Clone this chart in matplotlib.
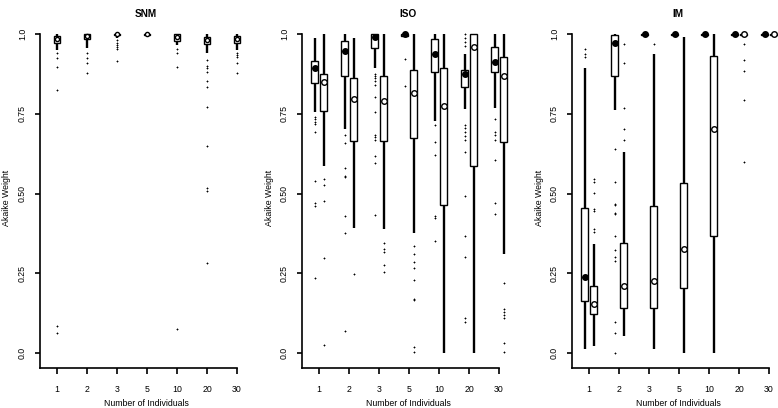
import matplotlib
matplotlib.use("Agg")
import matplotlib.pyplot as plt

plt.rcParams['font.family'] = ['Liberation Sans', 'DejaVu Sans']

categories = ["1", "2", "3", "5", "10", "20", "30"]
panel_titles = ["SNM", "ISO", "IM"]
y_ticks = [0.0, 0.25, 0.5, 0.75, 1.0]
y_tick_labels = ["0.0", "0.25", "0.50", "0.75", "1.0"]

# ---------------- SNM (single box per category) ----------------
snm_q1 = [0.972, 0.984, 0.996, 0.997, 0.979, 0.969, 0.973]
snm_med = [0.985, 0.993, 0.999, 1.000, 0.990, 0.981, 0.985]
snm_q3 = [0.994, 1.000, 1.000, 1.000, 0.999, 0.992, 0.994]
snm_lo = [0.950, 0.955, 0.988, 0.993, 0.966, 0.940, 0.950]
snm_hi = [1.0, 1.0, 1.0, 1.0, 1.0, 1.0, 1.0]
snm_fliers = [
    [0.940, 0.924, 0.898, 0.826, 0.085, 0.063],
    [0.939, 0.924, 0.908, 0.879],
    [0.981, 0.973, 0.965, 0.958, 0.953, 0.915],
    [],
    [0.952, 0.940, 0.898, 0.074],
    [0.920, 0.899, 0.892, 0.881, 0.853, 0.834, 0.772, 0.649, 0.516, 0.508, 0.283],
    [0.942, 0.934, 0.927, 0.908, 0.879],
]

# ---------------- ISO ----------------
iso_a_q1 = [0.845, 0.867, 0.955, 0.995, 0.880, 0.833, 0.880]
iso_a_med = [0.894, 0.948, 0.992, 1.000, 0.937, 0.876, 0.911]
iso_a_q3 = [0.914, 0.978, 1.000, 1.000, 0.984, 0.886, 0.958]
iso_a_lo = [0.754, 0.702, 0.892, 0.993, 0.726, 0.764, 0.767]
iso_a_hi = [0.988, 1.000, 1.000, 1.000, 1.000, 0.936, 1.000]
iso_a_fliers = [
    [0.741, 0.732, 0.725, 0.718, 0.692, 0.539, 0.469, 0.462, 0.234],
    [0.683, 0.657, 0.580, 0.555, 0.553, 0.431, 0.375, 0.069],
    [0.876, 0.869, 0.861, 0.853, 0.840, 0.801, 0.754, 0.683, 0.676, 0.668, 0.618, 0.595, 0.433],
    [0.923, 0.837],
    [0.715, 0.663, 0.620, 0.429, 0.422, 0.351],
    [1.0, 0.986, 0.974, 0.963, 0.715, 0.704, 0.692, 0.681, 0.668, 0.630, 0.492, 0.367, 0.300, 0.109, 0.098],
    [0.735, 0.692, 0.683, 0.668, 0.605, 0.469, 0.435],
]
iso_b_q1 = [0.759, 0.666, 0.666, 0.675, 0.465, 0.586, 0.660]
iso_b_med = [0.848, 0.795, 0.791, 0.816, 0.774, 0.958, 0.867]
iso_b_q3 = [0.876, 0.861, 0.869, 0.886, 0.894, 1.000, 0.927]
iso_b_lo = [0.586, 0.391, 0.389, 0.375, 0.000, 0.000, 0.310]
iso_b_hi = [1.000, 0.986, 1.000, 1.000, 1.000, 1.000, 1.000]
iso_b_fliers = [
    [0.547, 0.527, 0.476, 0.299, 0.025],
    [0.248],
    [0.344, 0.325, 0.318, 0.276, 0.255],
    [0.334, 0.310, 0.284, 0.267, 0.229, 0.170, 0.167, 0.018, 0.004],
    [],
    [],
    [0.218, 0.138, 0.130, 0.119, 0.111, 0.030, 0.002],
]

# ---------------- IM ----------------
im_a_q1 = [0.163, 0.869, 0.998, 0.998, 0.998, 0.998, 0.998]
im_a_med = [0.239, 0.973, 1.000, 1.000, 1.000, 1.000, 1.000]
im_a_q3 = [0.456, 0.997, 1.000, 1.000, 1.000, 1.000, 1.000]
im_a_lo = [0.013, 0.762, 0.996, 0.996, 0.996, 0.996, 0.996]
im_a_hi = [0.892, 1.000, 1.000, 1.000, 1.000, 1.000, 1.000]
im_a_fliers = [
    [0.952, 0.937, 0.929],
    [0.638, 0.537, 0.466, 0.463, 0.439, 0.436, 0.367, 0.323, 0.302, 0.289, 0.098, 0.062, 0.0],
    [], [], [], [], [],
]
im_b_q1 = [0.122, 0.140, 0.140, 0.203, 0.367, 0.998, 0.998]
im_b_med = [0.155, 0.210, 0.226, 0.326, 0.702, 1.000, 1.000]
im_b_q3 = [0.211, 0.344, 0.461, 0.532, 0.930, 1.000, 1.000]
im_b_lo = [0.023, 0.054, 0.013, 0.000, 0.000, 0.990, 0.996]
im_b_hi = [0.342, 0.631, 0.937, 0.992, 1.000, 1.000, 1.000]
im_b_fliers = [
    [0.544, 0.537, 0.502, 0.450, 0.445, 0.388, 0.380],
    [0.968, 0.910, 0.767, 0.703, 0.668],
    [0.969],
    [],
    [],
    [0.969, 0.919, 0.883, 0.793, 0.600],
    [],
]


def make_stats(q1, med, q3, lo, hi, fliers):
    return [dict(q1=a, med=m, q3=b, whislo=l, whishi=h, fliers=f, mean=m)
            for a, m, b, l, h, f in zip(q1, med, q3, lo, hi, fliers)]


def draw(ax, stats, offset, filled, msize):
    pos = [i + 1 + offset for i in range(len(stats))]
    ax.bxp(stats, positions=pos, widths=0.23, patch_artist=True,
           showcaps=False, showmeans=True, manage_ticks=False,
           boxprops=dict(facecolor='white', edgecolor='black', linewidth=1.0),
           whiskerprops=dict(color='black', linewidth=1.7, solid_capstyle='butt'),
           medianprops=dict(linestyle='none'),
           meanprops=dict(marker='o', markersize=msize,
                          markerfacecolor='black' if filled else 'white',
                          markeredgecolor='black', markeredgewidth=1.0),
           flierprops=dict(marker='+', markersize=2.0, markeredgewidth=0.6,
                           markeredgecolor='black'))


W, H = 778, 408
fig = plt.figure(figsize=(W / 100, H / 100), dpi=100)

xmin, xmax = 0.433, 7.5
ymin, ymax = -0.047, 1.02
ax_w = (xmax - xmin) * 30
ax_bottom_px = 368
ax_h = (ymax - ymin) * 319
lefts = [40, 302, 572]

panels = [
    [(make_stats(snm_q1, snm_med, snm_q3, snm_lo, snm_hi, snm_fliers), 0.0, False, 3.0)],
    [(make_stats(iso_a_q1, iso_a_med, iso_a_q3, iso_a_lo, iso_a_hi, iso_a_fliers), -0.15, True, 4.0),
     (make_stats(iso_b_q1, iso_b_med, iso_b_q3, iso_b_lo, iso_b_hi, iso_b_fliers), 0.15, False, 4.0)],
    [(make_stats(im_a_q1, im_a_med, im_a_q3, im_a_lo, im_a_hi, im_a_fliers), -0.15, True, 4.0),
     (make_stats(im_b_q1, im_b_med, im_b_q3, im_b_lo, im_b_hi, im_b_fliers), 0.15, False, 4.0)],
]

for left, title, series in zip(lefts, panel_titles, panels):
    ax = fig.add_axes([left / W, (H - ax_bottom_px) / H, ax_w / W, ax_h / H])
    for stats, off, filled, ms in series:
        draw(ax, stats, off, filled, ms)
    ax.set_xlim(xmin, xmax)
    ax.set_ylim(ymin, ymax)
    for s in ['top', 'right']:
        ax.spines[s].set_visible(False)
    ax.spines['left'].set_bounds(ymin, 1.0)
    ax.spines['bottom'].set_bounds(xmin, 7)
    for s in ['left', 'bottom']:
        ax.spines[s].set_linewidth(1.2)
    ax.set_xticks(range(1, 8))
    ax.set_xticklabels(categories)
    ax.set_yticks(y_ticks)
    ax.set_yticklabels(y_tick_labels, rotation=90, va='center')
    ax.tick_params(axis='x', length=4, width=1.2, pad=8, labelsize=6.3)
    ax.tick_params(axis='y', length=3.5, width=1.2, pad=6, labelsize=6.3)
    ax.set_xlabel("Number of Individuals", fontsize=6.3, va='center')
    ax.xaxis.set_label_coords(0.5, -(403 - ax_bottom_px) / ax_h)
    ax.set_ylabel("Akaike Weight", fontsize=6.3, va='center')
    ax.yaxis.set_label_coords(-33 / ax_w, 0.5)
    ax.text(0.5, 1 + (ax_bottom_px - ax_h - 14) / ax_h, title, transform=ax.transAxes,
            ha='center', va='center', fontsize=7.2, fontweight='bold')

fig.savefig("out.png", dpi=100)
